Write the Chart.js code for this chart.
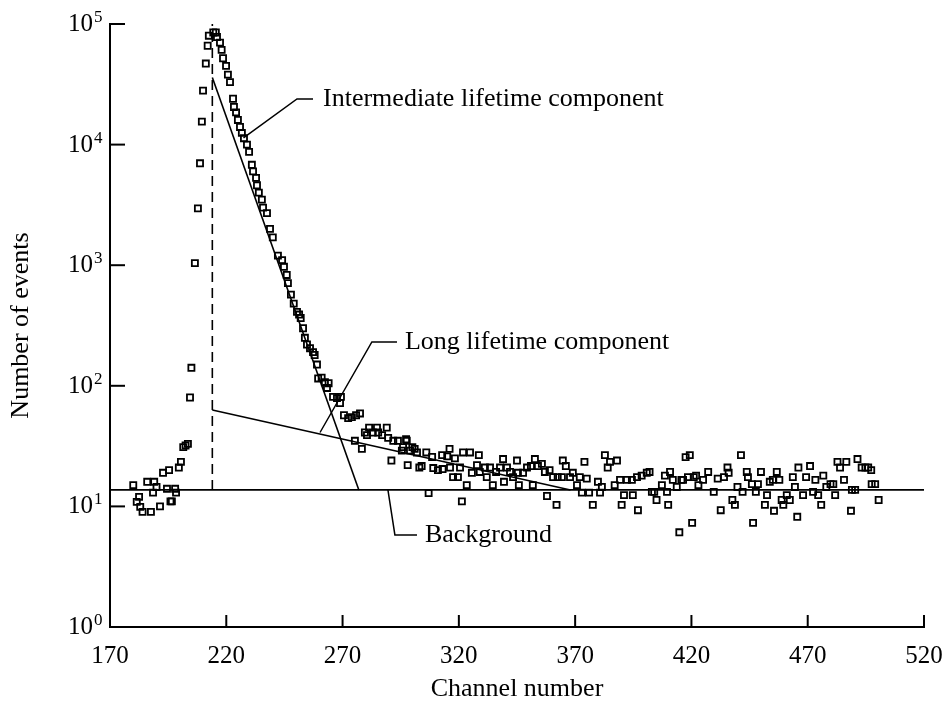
<!DOCTYPE html>
<html>
<head>
<meta charset="utf-8">
<script src="https://cdn.jsdelivr.net/npm/chart.js@4.4.0/dist/chart.umd.min.js"></script>
<style>
  html, body { margin: 0; background: #fff; }
  #wrap { width: 945px; height: 710px; }
</style>
</head>
<body>
<div id="wrap"><canvas id="chart"></canvas></div>
<script>
// counts, split by region
const risingChannels = [180,181.5,182.5,183,184,186,187.6,188.5,189,190,191.5,192.8,194.5,195.4,196,196.6,198,198.4,199.6,200.5,201.5,202.5,203.5,204.4,205,206.5,207.8,208.7,209.5,210,211.2,212,212.5];
const risingCounts = [15,10.9,12,9.9,9,16,9,13,16,14.5,10,19,14,20,11,11,14,13,21,23.4,31,32,33,80,141,1040,2960,7000,15500,28000,47000,66000,80000];

const decayChannels = [214.4,215.5,216,217.3,218,218.6,219.9,220.7,221.6,222.9,223.3,224.2,225,225.9,226.7,227.6,228.9,229.8,231,231.5,232.8,233.2,234,235.3,235.8,237.5,238.8,240,242.2,244,244.8,246,246.5,247.8,249,250.4,251.3,252,253,253.8,254.7,256,257.3,258,259,259.5,261,262.4,263.3,264,265.9,267.6,268.9,269.3,270.6,272.4,274,275.3,275.8,277.5,278.3,279.6,280.5,281.4,283,284.8,285.3,287,289,289.6,291,291.8,293.8,295.5,296,297.3,297.6,298,299,300];
const decayCounts = [85000,85000,78000,70000,61000,52000,45000,38000,33000,24000,20500,18500,16000,14000,12500,11300,10000,8700,6800,6000,5300,4600,4000,3500,3000,2700,2000,1700,1200,1100,970,830,710,570,480,410,390,365,300,250,220,205,190,180,150,115,117,107,96,105,81,79,72,81,57,54,55,35,57,59,30,41,39,45,41,45,41,39,45,37,24,35,35,29,31,36,35,22,29,31];

const tailChannels = [301,302,303,304,306,307,308.5,309,311,312.8,313,315,316,316.2,317.5,318.3,319.6,320.5,321.3,321.8,323.4,324.8,325.6,327.8,328.6,329,331.2,332,333.4,334.6,336,337.7,339,339.4,340.7,342,343.3,345,345.4,345.8,347.6,349.3,351,351.8,352.7,354,355.7,357,357.9,359,360.5,362,362.5,364.3,364.7,366,367.8,369,370.8,372,372.9,374,375,376,377.6,379.8,380.7,381.5,382.8,384,385,387,388,389.3,390,391,392.3,394.4,394.8,396.6,397,398.6,400.8];
const tailCounts = [30,28,21,21.6,28,12.9,25.7,20.8,20,26.6,20.4,26,30,21,17.5,25,17.5,21,11,28,15,28,19,22,26.6,19.3,21,17.5,21,15,19.3,21,24.7,16,21,19.3,17.5,24,19,15,19,21,21.6,15,24.7,21.6,22.5,19.3,12.2,20,17.5,10.3,17.5,17.5,24,21.6,17.5,19,15,17.5,13,23.4,17,13,10.3,16,13,14.5,26.6,21,23.4,15,24,16.6,10.3,12.4,16.6,16.6,12.4,17.5,9.3,18,19];

const endChannels = [402,403,404,405,407.3,408.6,409.5,410,410.8,412,413.7,414.8,415.7,416.4,417.5,418.5,419.3,420.3,421,422,423,425,427.2,429.6,431.3,432.6,434,435.5,436,437.6,438.7,439.8,441.3,442,443.8,444.3,446,446.5,447.7,448.6,449.9,451.6,452.5,453.7,455,455.5,456.7,457.8,458.8,459.5,461,462.3,463.6,464.5,465.5,466,468,469.3,471,472.3,473.3,474.5,475.8,476.7,478,479.8,481,481.8,482.8,483.9,485.6,486.6,488.6,489,490.4,491.4,493.2,494.8,496,497.3,497.5,499,500.5];
const endCounts = [19.3,13.2,13.2,11.3,15,18,13.2,10.3,19.3,16.6,14.5,6.1,16.6,16.6,25.6,17.5,26.6,7.3,17.5,18,15,16.6,19.3,13.2,17,9.3,17.5,21,19,11.3,10.3,14.5,26.6,13.2,19.3,17.5,15.3,7.3,13.2,15.3,19.3,10.3,12.4,16,16.6,9.2,19.3,16.6,11.3,10.3,12.4,11.3,17.5,14.5,8.2,21,12.4,17.5,21.6,13.2,16.6,12.4,10.3,18,14.5,15.3,15.3,12.4,23.4,21,16.6,23.4,9.2,13.7,13.7,24.7,21,21,21,20,15.3,15.3,11.3];

// fitted components
const backgroundLevel = 13.7;
const backgroundChannels = [170, 520];
const intermediateChannels = [214, 277];
const intermediateCounts = [36000, 13.7];
const longChannels = [214, 368];
const longCounts = [63, 13.7];
const peakChannel = 214;

const xTicks = [170, 220, 270, 320, 370, 420, 470, 520];
const yExponents = [0, 1, 2, 3, 4, 5];

// callouts, anchored in data units
const notes = [
  { text: 'Intermediate lifetime component', path: [[227.4, 11350], [250.4, 23900], [257.3, 23900]], at: [261.6, 23900] },
  { text: 'Long lifetime component', path: [[260.3, 41], [282.6, 231], [293.4, 231]], at: [296.8, 231] },
  { text: 'Background', path: [[289.5, 13.7], [292.5, 5.8], [302, 5.8]], at: [305.4, 5.8] }
];

const serif = "'Liberation Serif', 'Times New Roman', serif";
const zip = (xs, ys) => xs.map((x, i) => ({ x: x, y: ys[i] }));

function pointSet(xs, ys) {
  return {
    type: 'scatter',
    data: zip(xs, ys),
    pointStyle: 'rect',
    pointRadius: 4.3,
    pointBorderWidth: 1.8,
    borderColor: '#000',
    backgroundColor: 'rgba(0,0,0,0)',
    showLine: false
  };
}

function lineSet(xs, ys, dash) {
  return {
    type: 'line',
    data: zip(xs, ys),
    borderColor: '#000',
    borderWidth: 1.6,
    borderDash: dash || [],
    pointRadius: 0,
    fill: false,
    tension: 0
  };
}

const overlay = {
  id: 'overlay',
  afterDraw(chart) {
    const { ctx, chartArea, scales: { x, y } } = chart;
    ctx.save();
    ctx.strokeStyle = '#000';
    ctx.fillStyle = '#000';

    // inward tick marks
    ctx.lineWidth = 2;
    xTicks.forEach(v => {
      const px = x.getPixelForValue(v);
      ctx.beginPath();
      ctx.moveTo(px, chartArea.bottom);
      ctx.lineTo(px, chartArea.bottom - 12);
      ctx.stroke();
    });
    yExponents.forEach(e => {
      const py = y.getPixelForValue(Math.pow(10, e));
      ctx.beginPath();
      ctx.moveTo(chartArea.left, py);
      ctx.lineTo(chartArea.left + 15, py);
      ctx.stroke();
    });

    // 10^n labels
    yExponents.forEach(e => {
      const py = y.getPixelForValue(Math.pow(10, e));
      const right = chartArea.left - 17;
      ctx.font = '25px ' + serif;
      ctx.textAlign = 'right';
      ctx.textBaseline = 'alphabetic';
      ctx.fillText('10', right, py + 7);
      ctx.font = '17px ' + serif;
      ctx.textAlign = 'left';
      ctx.fillText(String(e), right + 1, py - 2);
    });

    // callouts
    ctx.lineWidth = 1.5;
    notes.forEach(n => {
      ctx.beginPath();
      n.path.forEach((p, i) => {
        const px = x.getPixelForValue(p[0]);
        const py = y.getPixelForValue(p[1]);
        if (i === 0) ctx.moveTo(px, py); else ctx.lineTo(px, py);
      });
      ctx.stroke();
      ctx.font = '26px ' + serif;
      ctx.textAlign = 'left';
      ctx.textBaseline = 'middle';
      ctx.fillText(n.text, x.getPixelForValue(n.at[0]), y.getPixelForValue(n.at[1]));
    });
    ctx.restore();
  }
};

const ctx = document.getElementById('chart').getContext('2d');
const myChart = new Chart(ctx, {
  data: {
    datasets: [
      lineSet(backgroundChannels, [backgroundLevel, backgroundLevel]),
      lineSet([peakChannel, peakChannel], [backgroundLevel, 100000], [10, 6]),
      lineSet(intermediateChannels, intermediateCounts),
      lineSet(longChannels, longCounts),
      pointSet(risingChannels, risingCounts),
      pointSet(decayChannels, decayCounts),
      pointSet(tailChannels, tailCounts),
      pointSet(endChannels, endCounts)
    ]
  },
  options: {
    responsive: true,
    maintainAspectRatio: false,
    animation: false,
    layout: { padding: { top: 24, right: 21, left: 0, bottom: 0 } },
    plugins: { legend: { display: false }, tooltip: { enabled: false } },
    scales: {
      x: {
        type: 'linear',
        min: 170,
        max: 520,
        afterFit(scale) {
          scale.height = 83;
          scale.paddingLeft = 0;
          scale.paddingRight = 0;
        },
        afterBuildTicks(scale) { scale.ticks = xTicks.map(v => ({ value: v })); },
        ticks: { color: '#000', font: { family: serif, size: 25 }, padding: 14, maxRotation: 0 },
        grid: { display: false, drawTicks: false },
        border: { display: true, color: '#000', width: 2 },
        title: { display: true, text: 'Channel number', color: '#000', font: { family: serif, size: 26 }, padding: { top: 0, bottom: 5 } }
      },
      y: {
        type: 'logarithmic',
        min: 1,
        max: 100000,
        afterFit(scale) { scale.width = 110; },
        ticks: { display: false },
        grid: { display: false, drawTicks: false },
        border: { display: true, color: '#000', width: 2 },
        title: { display: true, text: 'Number of events', color: '#000', font: { family: serif, size: 26 }, padding: { top: 6, bottom: 0 } }
      }
    }
  },
  plugins: [overlay]
});
</script>
</body>
</html>
